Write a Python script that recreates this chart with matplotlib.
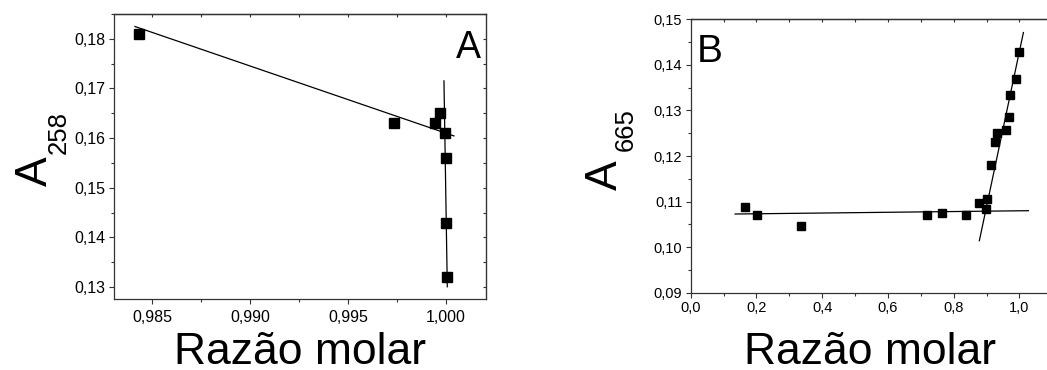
import numpy as np
import matplotlib
matplotlib.use('Agg')
import matplotlib.pyplot as plt
from matplotlib.ticker import MultipleLocator, FuncFormatter

plt.rcParams['font.family'] = ['Liberation Sans', 'DejaVu Sans']

# painel A - A258 x razao molar
razao_a = [0.98432, 0.99736, 0.99944, 0.99969, 0.99998, 1.00000, 1.00002, 1.00004]
abs_a = [0.1810, 0.1631, 0.1631, 0.1651, 0.1610, 0.1560, 0.1430, 0.1321]
# retas ajustadas (pontos extremos)
reta1_a_x = [0.98411, 1.00042]
reta1_a_y = [0.18248, 0.16044]
reta2_a_x = [0.99991, 1.00008]
reta2_a_y = [0.17153, 0.13006]

# painel B - A665 x razao molar
razao_b = [0.165, 0.202, 0.337, 0.718, 0.763, 0.838, 0.878, 0.901, 0.899,
           0.914, 0.926, 0.933, 0.960, 0.968, 0.972, 0.990, 0.998]
abs_b = [0.1087, 0.1070, 0.1047, 0.1070, 0.1074, 0.1071, 0.1096, 0.1106, 0.1084,
         0.1180, 0.1231, 0.1251, 0.1256, 0.1286, 0.1334, 0.1370, 0.1429]
reta1_b_x = [0.135, 1.027]
reta1_b_y = [0.10727, 0.1080]
reta2_b_x = [0.878, 1.012]
reta2_b_y = [0.10142, 0.1471]

W, H = 1047, 370


def virgula(casas):
    return FuncFormatter(lambda v, p: ('%.*f' % (casas, v)).replace('.', ','))


def estilo(ax, fs, xpad):
    for s in ax.spines.values():
        s.set_linewidth(0.9)
        s.set_color('#333333')
    ax.tick_params(which='major', direction='out', length=3.6, width=0.8,
                   labelsize=fs, pad=2.4, color='#333333')
    ax.tick_params(axis='x', which='major', pad=xpad)
    ax.tick_params(which='minor', direction='out', length=2.2, width=0.8, color='#333333')
    # ticks espelhados para dentro no topo e na direita
    top = ax.secondary_xaxis('top')
    top.set_xticks(ax.get_xticks())
    top.xaxis.set_minor_locator(ax.xaxis.get_minor_locator())
    top.tick_params(which='both', direction='in', labeltop=False, length=2.5, width=0.8, color='#333333')
    top.spines['top'].set_linewidth(0.9)
    direita = ax.secondary_yaxis('right')
    direita.set_yticks(ax.get_yticks())
    direita.yaxis.set_minor_locator(ax.yaxis.get_minor_locator())
    direita.tick_params(which='both', direction='in', labelright=False, length=2.5, width=0.8, color='#333333')


def rotulo_y(x_a, y_a, x_s, y_s, sub):
    # "A" grande + indice, rodados 90 graus, ancorados na linha de base
    fig.text(x_a / W, 1 - y_a / H, 'A', fontsize=32, rotation=90,
             rotation_mode='anchor', ha='left', va='baseline')
    fig.text(x_s / W, 1 - y_s / H, sub, fontsize=18.5, rotation=90,
             rotation_mode='anchor', ha='left', va='baseline')


fig = plt.figure(figsize=(10.47, 3.70), dpi=100)

# ---- A ----
ax1 = fig.add_axes([0.1089, 0.1919, 0.3553, 0.7703])
ax1.plot(reta1_a_x, reta1_a_y, color='black', lw=0.9)
ax1.plot(reta2_a_x, reta2_a_y, color='black', lw=0.9)
ax1.plot(razao_a, abs_a, 's', color='black', ms=7.5, zorder=3)
ax1.xaxis.set_major_locator(MultipleLocator(0.005))
ax1.xaxis.set_minor_locator(MultipleLocator(0.0025))
ax1.yaxis.set_major_locator(MultipleLocator(0.01))
ax1.yaxis.set_minor_locator(MultipleLocator(0.005))
ax1.xaxis.set_major_formatter(virgula(3))
ax1.yaxis.set_major_formatter(virgula(2))
ax1.set_xlim(0.98304, 1.00206)
ax1.set_ylim(0.1276, 0.185)
estilo(ax1, 11.5, 4.5)
ax1.set_xlim(0.98304, 1.00206)
ax1.set_ylim(0.1276, 0.185)
ax1.set_xlabel('Razão molar', fontsize=32)
ax1.xaxis.label.set_va('baseline')
ax1.xaxis.set_label_coords(0.5, -0.228)
rotulo_y(47, 186, 66, 154, '258')
ax1.text(0.987, 0.846, 'A', transform=ax1.transAxes, fontsize=27, ha='right', va='baseline')

# ---- B ----
ax2 = fig.add_axes([0.6597, 0.2089, 0.3432, 0.7389])
ax2.plot(reta1_b_x, reta1_b_y, color='black', lw=0.9)
ax2.plot(reta2_b_x, reta2_b_y, color='black', lw=0.9)
ax2.plot(razao_b, abs_b, 's', color='black', ms=5.6, zorder=3)
ax2.xaxis.set_major_locator(MultipleLocator(0.2))
ax2.xaxis.set_minor_locator(MultipleLocator(0.1))
ax2.yaxis.set_major_locator(MultipleLocator(0.01))
ax2.yaxis.set_minor_locator(MultipleLocator(0.005))
ax2.xaxis.set_major_formatter(virgula(1))
ax2.yaxis.set_major_formatter(virgula(2))
ax2.set_xlim(0, 1.093)
ax2.set_ylim(0.09, 0.15)
estilo(ax2, 10.5, 2.5)
ax2.set_xlim(0, 1.093)
ax2.set_ylim(0.09, 0.15)
ax2.set_xlabel('Razão molar', fontsize=32)
ax2.xaxis.label.set_va('baseline')
ax2.xaxis.set_label_coords(0.5, -0.26)
rotulo_y(617, 190, 633, 151, '665')
ax2.text(0.0175, 0.844, 'B', transform=ax2.transAxes, fontsize=28, ha='left', va='baseline')

fig.savefig('out.png', dpi=100)
